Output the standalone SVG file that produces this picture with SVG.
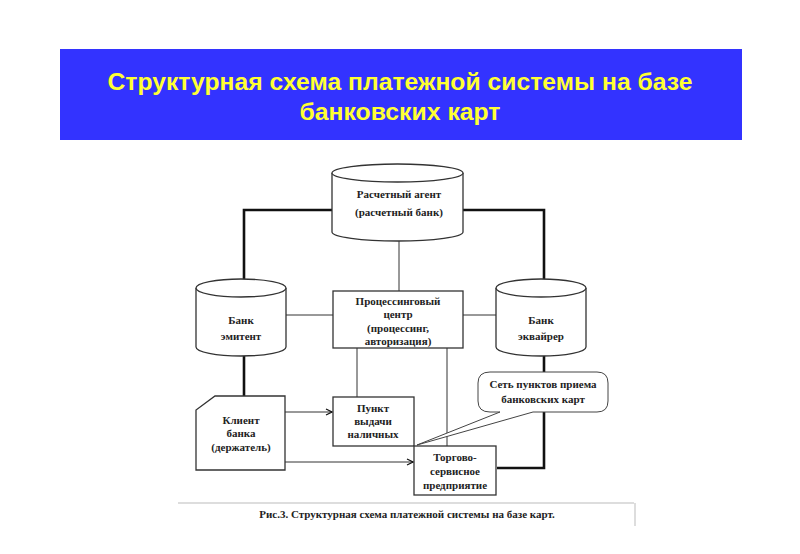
<svg xmlns="http://www.w3.org/2000/svg" width="800" height="554" viewBox="0 0 800 554">
<style>
.lbl{font-family:"Liberation Serif","Times New Roman",serif;font-weight:bold;font-size:11px;fill:#222;text-anchor:middle}
.shape{fill:#fff;stroke:#333;stroke-width:1.3}
.thin{fill:none;stroke:#333;stroke-width:1}
.thick{fill:none;stroke:#111;stroke-width:2.6}
.title{font-family:"Liberation Sans",Arial,sans-serif;font-weight:bold;font-size:24px;fill:#ffff33;text-anchor:middle}
</style>
<defs>
<marker id="arr" markerWidth="8" markerHeight="8" refX="7" refY="4" orient="auto" markerUnits="userSpaceOnUse">
<path d="M1,1 L7,4 L1,7" fill="none" stroke="#111" stroke-width="1.2"/>
</marker>
</defs>
<rect width="800" height="554" fill="#fff"/>
<g id="banner">
<rect x="60" y="49" width="682" height="91" fill="#3333ff"/>
<text class="title" x="400" y="90" textLength="585" lengthAdjust="spacingAndGlyphs">Структурная схема платежной системы на базе</text>
<text class="title" x="400" y="120" textLength="201" lengthAdjust="spacingAndGlyphs">банковских карт</text>
</g>
<g id="connectors">
<path class="thick" d="M332,210 H244 V281"/>
<path class="thick" d="M463,210 H544 V281"/>
<path class="thin" d="M399,241 V291"/>
<path class="thin" d="M286,315 H333"/>
<path class="thin" d="M463,315 H496"/>
<path class="thick" d="M244,355 V396"/>
<path class="thin" d="M357,348 V397"/>
<path class="thin" d="M447,348 V446"/>
<path class="thin" d="M285,412 H332" marker-end="url(#arr)"/>
<path class="thin" d="M285,462 H413" marker-end="url(#arr)"/>
<path class="thick" d="M544,355 V372"/>
<path class="thick" d="M544,412 V468 H497"/>
</g>
<g id="agent">
<path class="shape" d="M332,173 V232 A65.5,9 0 0 0 463,232 V173"/>
<ellipse class="shape" cx="397.5" cy="173" rx="65.5" ry="9"/>
<text class="lbl" x="399" y="198">Расчетный агент</text>
<text class="lbl" x="399" y="216">(расчетный банк)</text>
</g>
<g id="emitent">
<path class="shape" d="M196,288 V347 A45,9 0 0 0 286,347 V288"/>
<ellipse class="shape" cx="241" cy="288" rx="45" ry="9"/>
<text class="lbl" x="241" y="324">Банк</text>
<text class="lbl" x="241" y="340">эмитент</text>
</g>
<g id="acquirer">
<path class="shape" d="M496,288 V347 A45,9 0 0 0 586,347 V288"/>
<ellipse class="shape" cx="541" cy="288" rx="45" ry="9"/>
<text class="lbl" x="541" y="324">Банк</text>
<text class="lbl" x="541" y="340">эквайрер</text>
</g>
<g id="processing">
<rect class="shape" x="333" y="291" width="130" height="57"/>
<text class="lbl" x="398" y="305">Процессинговый</text>
<text class="lbl" x="398" y="318">центр</text>
<text class="lbl" x="398" y="332">(процессинг,</text>
<text class="lbl" x="398" y="345">авторизация)</text>
</g>
<g id="client">
<path class="shape" d="M215,396 H285 V470 H196 V410 Z"/>
<text class="lbl" x="241" y="424">Клиент</text>
<text class="lbl" x="241" y="437">банка</text>
<text class="lbl" x="241" y="451">(держатель)</text>
</g>
<g id="cash">
<rect class="shape" x="333" y="397" width="81" height="49"/>
<text class="lbl" x="373" y="412">Пункт</text>
<text class="lbl" x="373" y="425">выдачи</text>
<text class="lbl" x="373" y="438">наличных</text>
</g>
<g id="merchant">
<rect class="shape" x="414" y="446" width="82" height="49"/>
<text class="lbl" x="455" y="461">Торгово-</text>
<text class="lbl" x="455" y="475">сервисное</text>
<text class="lbl" x="455" y="489">предприятие</text>
</g>
<g id="network">
<path d="M490,372 H597 Q608,372 608,383 V401 Q608,412 597,412 H533 L417,445 L500,412 H490 Q478,412 478,401 V383 Q478,372 490,372 Z" fill="#fff" stroke="#444" stroke-width="1"/>
<text class="lbl" x="543" y="388">Сеть пунктов приема</text>
<text class="lbl" x="543" y="403">банковских карт</text>
</g>
<g id="caption">
<path d="M178,503 H634 M635,503 V526" fill="none" stroke="#bbb" stroke-width="1"/>
<text class="lbl" x="407" y="518">Рис.3. Структурная схема платежной системы на базе карт.</text>
</g>
</svg>
